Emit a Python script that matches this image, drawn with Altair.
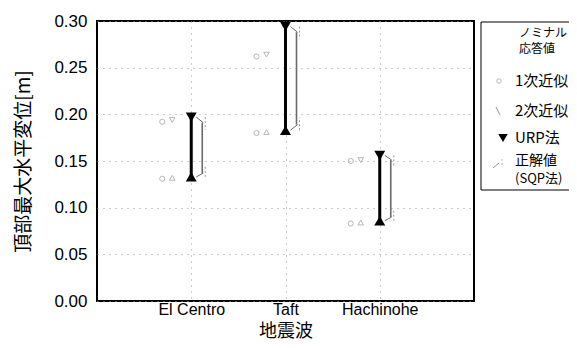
import altair as alt
import pandas as pd

# ---- data ----
quakes = ["El Centro", "Taft", "Hachinohe"]
urp_upper = [0.197, 0.294, 0.156]
urp_lower = [0.133, 0.183, 0.086]
sqp_upper = [0.191, 0.288, 0.151]
sqp_lower = [0.137, 0.189, 0.090]
approx1_upper = [0.192, 0.262, 0.150]
approx1_lower = [0.131, 0.180, 0.083]
approx2_upper = [0.194, 0.264, 0.151]
approx2_lower = [0.132, 0.181, 0.084]
y_ticks = [0.00, 0.05, 0.10, 0.15, 0.20, 0.25, 0.30]
legend_title = ["ノミナル", "応答値"]
legend_labels = ["1次近似", "2次近似", "URP法", "正解値"]
legend_sub = "(SQP法)"

df = pd.DataFrame({
    "quake": quakes,
    "urp_upper": urp_upper, "urp_lower": urp_lower,
    "sqp_upper": sqp_upper, "sqp_lower": sqp_lower,
    "a1_upper": approx1_upper, "a1_lower": approx1_lower,
    "a2_upper": approx2_upper, "a2_lower": approx2_lower,
})

W, H = 377, 280
LATIN = "Liberation Sans"
CJK = "Noto Sans CJK JP"
GRAY = "#6a6a6a"
LIGHT = "#999999"
GRID = "#9a9a9a"

xaxis = alt.Axis(title="地震波", labelAngle=0, labelFont=LATIN, labelFontSize=16,
                 labelColor="black", labelPadding=0, ticks=False, domain=False,
                 grid=True, gridDash=[1, 5], gridColor=GRID, gridWidth=1,
                 titleFont=CJK, titleFontSize=18, titleFontWeight="normal",
                 titleColor="black", titleY=39, titleBaseline="bottom")
yaxis = alt.Axis(title="頂部最大水平変位[m]", values=y_ticks, format=".2f",
                 labelFont=LATIN, labelFontSize=17, labelColor="black",
                 labelPadding=10, ticks=False, domain=False,
                 grid=True, gridDash=[1, 5], gridColor=GRID, gridWidth=1,
                 titleFont=CJK, titleFontSize=19, titleFontWeight="normal",
                 titleColor="black", titleX=-74, titleY=H / 2, titleAngle=-90,
                 titleAlign="center", titleBaseline="middle")
xscale = alt.Scale(type="point", domain=quakes, padding=1)
yscale = alt.Scale(domain=[0, 0.30], nice=False, zero=True)


def X():
    return alt.X("quake:N", scale=xscale, axis=xaxis, sort=quakes)


def Y(field):
    return alt.Y(f"{field}:Q", scale=yscale, axis=yaxis)


base = alt.Chart(df)

urp_line = base.mark_rule(color="black", strokeWidth=3).encode(
    x=X(), y=Y("urp_lower"), y2="urp_upper:Q")
urp_top = base.mark_point(shape="triangle-down", filled=True, color="black",
                          size=120, opacity=1).encode(x=X(), y=Y("urp_upper"))
urp_bot = base.mark_point(shape="triangle-up", filled=True, color="black",
                          size=120, opacity=1).encode(x=X(), y=Y("urp_lower"))

sqp_line = base.mark_rule(color=GRAY, strokeWidth=1.6, xOffset=11).encode(
    x=X(), y=Y("sqp_lower"), y2="sqp_upper:Q")
sqp_con_top = base.mark_rule(color=GRAY, strokeWidth=1, xOffset=5, x2Offset=12).encode(
    x=X(), x2="quake:N", y=Y("urp_upper"), y2="sqp_upper:Q")
sqp_con_bot = base.mark_rule(color=GRAY, strokeWidth=1, xOffset=5, x2Offset=12).encode(
    x=X(), x2="quake:N", y=Y("urp_lower"), y2="sqp_lower:Q")
sqp_br_top = base.mark_rule(color=LIGHT, strokeWidth=1, strokeDash=[2, 2],
                            xOffset=14, y2Offset=7).encode(
    x=X(), y=Y("urp_upper"), y2="sqp_upper:Q")
sqp_br_bot = base.mark_rule(color=LIGHT, strokeWidth=1, strokeDash=[2, 2],
                            xOffset=14, y2Offset=-7).encode(
    x=X(), y=Y("urp_lower"), y2="sqp_lower:Q")

a1 = base.transform_fold(["a1_upper", "a1_lower"], as_=["k", "v"]).mark_point(
    shape="circle", filled=False, color=LIGHT, size=26, strokeWidth=1, xOffset=-29
).encode(x=X(), y=Y("v"))
a2_top = base.mark_point(shape="triangle-down", filled=False, color=LIGHT, size=30,
                         strokeWidth=1, xOffset=-19).encode(x=X(), y=Y("a2_upper"))
a2_bot = base.mark_point(shape="triangle-up", filled=False, color=LIGHT, size=30,
                         strokeWidth=1, xOffset=-19).encode(x=X(), y=Y("a2_lower"))

# ---- hand-made legend box (as in the reference) ----
one = alt.Chart(pd.DataFrame({"d": [0]}))
leg_box = one.mark_rect(fill="white", stroke="black", strokeWidth=1).encode(
    x=alt.value(384), x2=alt.value(520), y=alt.value(1), y2=alt.value(169))
leg_layers = [leg_box]
for lab, yy in zip(legend_title, [12, 28]):
    leg_layers.append(one.mark_text(font=CJK, fontSize=12, align="left",
                                    baseline="middle", color="black").encode(
        x=alt.value(422), y=alt.value(yy), text=alt.value(lab)))
for lab, yy in zip(legend_labels, [60, 90, 117, 140]):
    leg_layers.append(one.mark_text(font=CJK, fontSize=15 if yy < 140 else 14,
                                    align="left", baseline="middle",
                                    color="black").encode(
        x=alt.value(418), y=alt.value(yy), text=alt.value(lab)))
leg_layers.append(one.mark_text(font=CJK, fontSize=13, align="left",
                                baseline="middle", color="black").encode(
    x=alt.value(418), y=alt.value(158), text=alt.value(legend_sub)))
leg_layers += [
    one.mark_point(shape="circle", filled=False, color=LIGHT, size=20,
                   strokeWidth=1).encode(x=alt.value(402), y=alt.value(60)),
    one.mark_point(shape="M-0.5,-1L0.5,1", filled=False, color=GRAY, size=60,
                   strokeWidth=1).encode(x=alt.value(401), y=alt.value(90)),
    one.mark_point(shape="triangle-down", filled=True, color="black", size=90,
                   opacity=1).encode(x=alt.value(406), y=alt.value(117)),
    one.mark_point(shape="M-1,0.8L0.2,-0.2", filled=False, color=GRAY, size=100,
                   strokeWidth=1).encode(x=alt.value(401), y=alt.value(143)),
    one.mark_point(shape="M0.8,-1L0.8,0.6", filled=False, color=LIGHT, size=100,
                   strokeWidth=1, strokeDash=[2, 2]).encode(
        x=alt.value(401), y=alt.value(143)),
]

chart = alt.layer(
    sqp_br_top, sqp_br_bot, sqp_con_top, sqp_con_bot, sqp_line,
    a1, a2_top, a2_bot,
    urp_line, urp_top, urp_bot,
    *leg_layers,
).properties(
    width=W, height=H,
    autosize=alt.AutoSizeParams(type="none"),
    padding={"left": 89, "top": 13, "right": 95, "bottom": 39},
).configure_view(stroke="black", strokeWidth=2)

chart.save("out.html", embed_options={"renderer": "svg", "actions": False})
